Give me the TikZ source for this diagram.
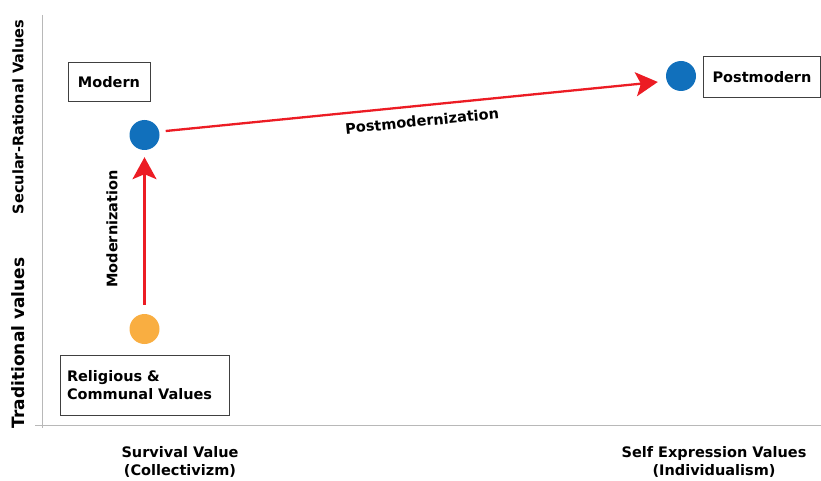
\documentclass[tikz,border=0pt]{standalone}
\usepackage{fontspec}
\setmainfont{DejaVu Sans}
\usetikzlibrary{positioning,arrows.meta}
\definecolor{dotblue}{HTML}{1170BC}
\definecolor{dotorange}{HTML}{F9AE41}
\definecolor{arrowred}{HTML}{EC1C24}
\definecolor{axisgray}{HTML}{B8B8B8}

\begin{document}
\begin{tikzpicture}[x=1pt,y=-1pt,%
  % common options for the labelled boxes:
  box/.style = {draw=black!75, line width=1pt, align=left, inner sep=0, font=\bfseries\fontsize{14.5}{18}\selectfont},
  % common options for the dots:
  dot/.style = {circle, inner sep=0, minimum size=30pt},
  % red arrows
  move/.style = {-{Stealth[length=22pt,width=24pt,inset=5pt]}, draw=arrowred, line width=2.3pt},
  % axis texts
  axislabel/.style = {font=\bfseries\fontsize{14.5}{18}\selectfont, align=center}]

\useasboundingbox (0,0) rectangle (821,481);

% the two axes
\draw[axisgray, line width=1pt] (42,15) -- (42,428);
\draw[axisgray, line width=1pt] (35,425) -- (821,425);

% axis labels on the left
\node[axislabel, rotate=90] (secular) at (18,117) {Secular-Rational Values};
\node[axislabel, rotate=90, font=\bfseries\fontsize{17}{20}\selectfont] (traditional) at (18,343) {Traditional values};

% axis labels at the bottom
\node[axislabel] (survival) at (180,462) {Survival Value\\(Collectivizm)};
\node[axislabel] (selfexpr) at (714,462) {Self Expression Values\\(Individualism)};

% dots for the three stages
\node[dot, fill=dotorange] (trad) at (144.5,329) {};
\node[dot, fill=dotblue] (modern) at (144.5,135) {};
\node[dot, fill=dotblue] (postmodern) at (681,76) {};

% boxes naming the stages
\node[box, minimum width=82pt, minimum height=39pt, align=center] (modernbox) at (109,82) {Modern};
\node[box, minimum width=117pt, minimum height=41pt, align=center] (postbox) at (762,77) {Postmodern};
\node[box, minimum width=169pt, minimum height=60pt, text width=155pt] (relbox) at (144.5,385) {Religious \&\\Communal Values};

% arrows between the stages
\draw[move] ([yshift=9pt]trad.north) -- ([yshift=-7pt]modern.south);
\draw[move] ([xshift=6pt,yshift=4pt]modern.east) -- ([xshift=-8pt,yshift=-6pt]postmodern.west);

% texts along the arrows
\node[axislabel, rotate=90] (modlabel) at (112,229) {Modernization};
\node[axislabel, rotate=5.7] (postlabel) at (422,121) {Postmodernization};
\end{tikzpicture}
\end{document}
